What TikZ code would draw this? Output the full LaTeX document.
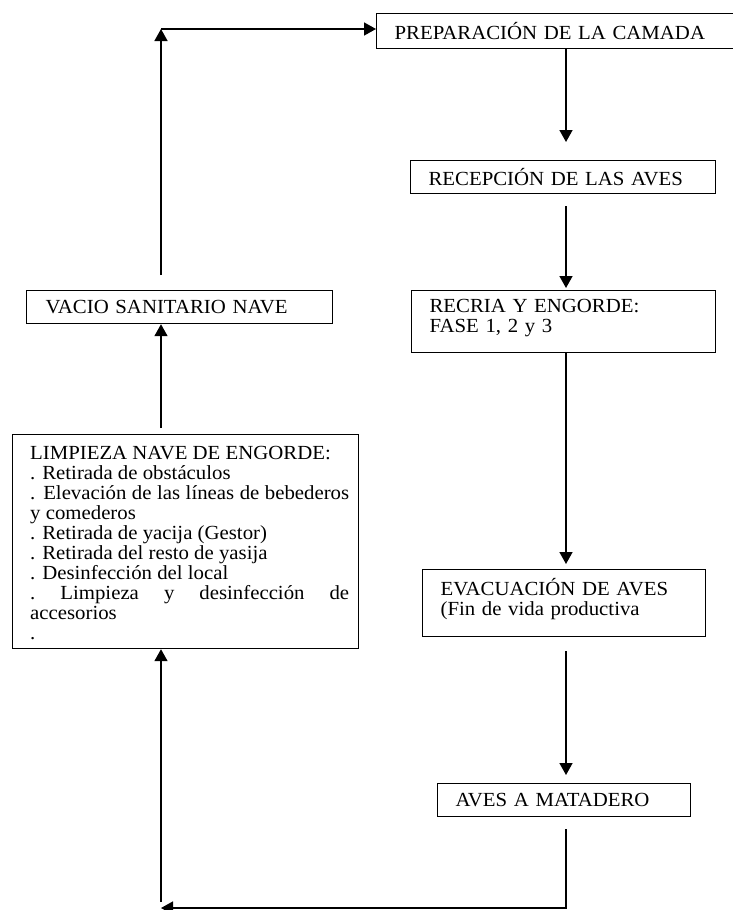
\documentclass[tikz,border=0pt]{standalone}
\usepackage{fontspec}
\setmainfont{Liberation Serif}[FakeStretch=1.04]
\usetikzlibrary{arrows.meta}
\begin{document}
\begin{tikzpicture}[x=1pt,y=-1pt,
  txt/.style={font=\fontsize{20}{20}\selectfont},
  box/.style={draw, line width=1.2pt, anchor=north west, inner sep=0pt,
    align=left, txt},
  conn/.style={line width=1.6pt, -{Triangle[width=13pt,length=12pt]}},
  plain/.style={line width=1.6pt}]
\useasboundingbox (0,0) rectangle (733,910);

\node[box, minimum width=360, minimum height=35, text width=324] (prep) at (376,13)
  {PREPARACIÓN DE LA CAMADA};
\node[box, minimum width=305, minimum height=33, text width=269] (recep) at (410,160)
  {RECEPCIÓN DE LAS AVES};
\node[box, minimum width=304, minimum height=62, text width=268] (recria) at (411,290)
  {RECRIA Y ENGORDE:\\FASE 1, 2 y 3\\[-8pt]\mbox{}};
\node[box, minimum width=283, minimum height=67, text width=247] (evac) at (422,569)
  {EVACUACIÓN DE AVES\\(Fin de vida productiva\\[-8pt]\mbox{}};
\node[box, minimum width=253, minimum height=33, text width=217] (mat) at (437,783)
  {AVES A MATADERO};
\node[box, minimum width=306, minimum height=33, text width=268] (vacio) at (26,290)
  {VACIO SANITARIO NAVE};
\node[box, minimum width=346, minimum height=214] (limp) at (12,434) {};
\node[txt, anchor=north west, inner sep=0pt] (limptxt) at (30,446)
  {\vbox{\baselineskip=20pt
   \hbox{LIMPIEZA NAVE DE ENGORDE:}
   \hbox{. Retirada de obstáculos}
   \hbox to 319pt{. Elevación de las líneas de bebederos}
   \hbox{y comederos}
   \hbox{. Retirada de yacija (Gestor)}
   \hbox{. Retirada del resto de yasija}
   \hbox{. Desinfección del local}
   \hbox to 319pt{.\hfill Limpieza\hfill y\hfill desinfección\hfill de}
   \hbox{accesorios}
   \hbox{.}}};

\coordinate (col) at (566,0);
\coordinate (tl) at (161,29);
\coordinate (bl) at (161,908);

\draw[conn, shorten >=18pt] (prep.south -| col) -- (recep.north -| col);
\draw[conn, shorten <=12pt, shorten >=2pt] (recep.south -| col) -- (recria.north -| col);
\draw[conn, shorten >=5pt] (recria.south -| col) -- (evac.north -| col);
\draw[conn, shorten <=14pt, shorten >=8pt] (evac.south -| col) -- (mat.north -| col);
\draw[conn, shorten <=12pt] (mat.south -| col) |- (bl);
\draw[conn, shorten <=6pt] (bl) -- (limp.south -| bl);
\draw[conn, shorten <=6pt] (limp.north -| bl) -- (vacio.south -| bl);
\draw[conn, shorten <=15pt] (vacio.north -| bl) -- (tl);
\draw[conn] (tl) -- (tl -| prep.west);
\end{tikzpicture}
\end{document}
